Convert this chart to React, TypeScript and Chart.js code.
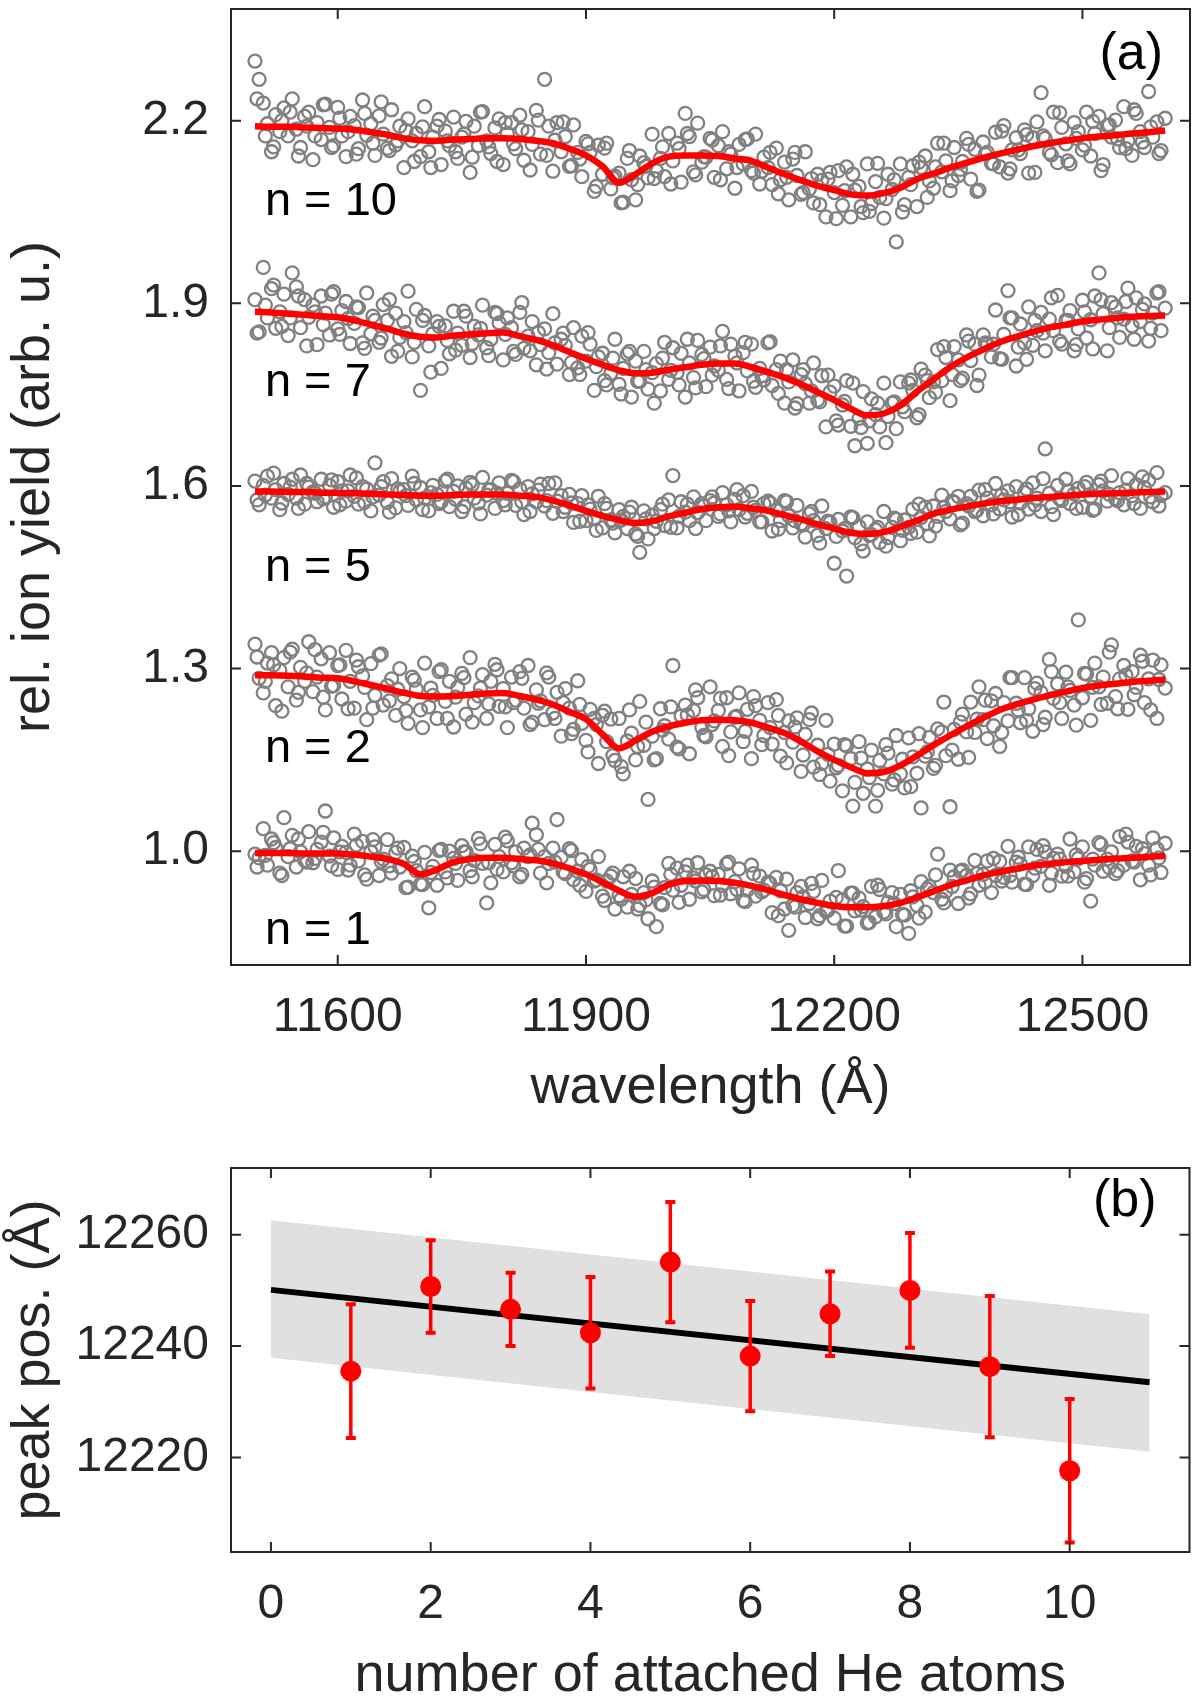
import { useEffect, useRef } from "react";
import { Chart, registerables } from "chart.js";

Chart.register(...registerables);

const FONT = "'Liberation Sans', Arial, Helvetica, sans-serif";
const INK = "#262626";
const RED = "#ff0000";
const TICK = 10;

// ---------- panel (a): ion yield vs wavelength ----------
// scan A (5 Å steps)
const wavelengths = [
  11500, 11505, 11510, 11515, 11520, 11525, 11530, 11535, 11540, 11545, 11550, 11555, 11560, 11565, 11570, 11575, 11580, 11585, 11590, 11595,
  11600, 11605, 11610, 11615, 11620, 11625, 11630, 11635, 11640, 11645, 11650, 11655, 11660, 11665, 11670, 11675, 11680, 11685, 11690, 11695,
  11700, 11705, 11710, 11715, 11720, 11725, 11730, 11735, 11740, 11745, 11750, 11755, 11760, 11765, 11770, 11775, 11780, 11785, 11790, 11795,
  11800, 11805, 11810, 11815, 11820, 11825, 11830, 11835, 11840, 11845, 11850, 11855, 11860, 11865, 11870, 11875, 11880, 11885, 11890, 11895,
  11900, 11905, 11910, 11915, 11920, 11925, 11930, 11935, 11940, 11945, 11950, 11955, 11960, 11965, 11970, 11975, 11980, 11985, 11990, 11995,
  12000, 12005, 12010, 12015, 12020, 12025, 12030, 12035, 12040, 12045, 12050, 12055, 12060, 12065, 12070, 12075, 12080, 12085, 12090, 12095,
  12100, 12105, 12110, 12115, 12120, 12125, 12130, 12135, 12140, 12145, 12150, 12155, 12160, 12165, 12170, 12175, 12180, 12185, 12190, 12195,
  12200, 12205, 12210, 12215, 12220, 12225, 12230, 12235, 12240, 12245, 12250, 12255, 12260, 12265, 12270, 12275, 12280, 12285, 12290, 12295,
  12300, 12305, 12310, 12315, 12320, 12325, 12330, 12335, 12340, 12345, 12350, 12355, 12360, 12365, 12370, 12375, 12380, 12385, 12390, 12395,
  12400, 12405, 12410, 12415, 12420, 12425, 12430, 12435, 12440, 12445, 12450, 12455, 12460, 12465, 12470, 12475, 12480, 12485, 12490, 12495,
  12500, 12505, 12510, 12515, 12520, 12525, 12530, 12535, 12540, 12545, 12550, 12555, 12560, 12565, 12570, 12575, 12580, 12585, 12590, 12595,
  12600,
];

const ionYieldN10 = [
  2.298, 2.268, 2.229, 2.195, 2.149, 2.210, 2.182, 2.221, 2.175, 2.236, 2.186, 2.156, 2.207, 2.214, 2.136, 2.197, 2.169, 2.227, 2.189, 2.159,
  2.222, 2.175, 2.141, 2.207, 2.192, 2.154, 2.234, 2.176, 2.195, 2.143, 2.208, 2.178, 2.155, 2.218, 2.160, 2.191, 2.123, 2.203, 2.167, 2.179,
  2.141, 2.223, 2.149, 2.173, 2.191, 2.128, 2.183, 2.159, 2.206, 2.138, 2.173, 2.199, 2.115, 2.191, 2.159, 2.215, 2.167, 2.146, 2.188, 2.203,
  2.128, 2.179, 2.197, 2.154, 2.209, 2.135, 2.182, 2.161, 2.217, 2.145, 2.268, 2.191, 2.117, 2.197, 2.149, 2.174, 2.125, 2.193, 2.148, 2.108,
  2.166, 2.148, 2.084, 2.160, 2.112, 2.163, 2.088, 2.109, 2.114, 2.066, 2.138, 2.103, 2.070, 2.142, 2.131, 2.106, 2.178, 2.118, 2.138, 2.108,
  2.179, 2.134, 2.163, 2.099, 2.212, 2.174, 2.116, 2.196, 2.132, 2.140, 2.171, 2.107, 2.159, 2.182, 2.121, 2.145, 2.089, 2.161, 2.129, 2.170,
  2.118, 2.178, 2.096, 2.140, 2.123, 2.095, 2.155, 2.103, 2.132, 2.070, 2.137, 2.110, 2.079, 2.149, 2.088, 2.065, 2.112, 2.102, 2.042, 2.115,
  2.082, 2.118, 2.061, 2.124, 2.042, 2.086, 2.092, 2.049, 2.129, 2.064, 2.100, 2.074, 2.040, 2.112, 2.087, 2.001, 2.129, 2.062, 2.107, 2.126,
  2.059, 2.123, 2.142, 2.101, 2.089, 2.163, 2.116, 2.134, 2.085, 2.156, 2.110, 2.133, 2.171, 2.104, 2.153, 2.086, 2.165, 2.148, 2.130, 2.181,
  2.124, 2.192, 2.114, 2.152, 2.172, 2.146, 2.185, 2.114, 2.172, 2.198, 2.246, 2.171, 2.148, 2.214, 2.131, 2.189, 2.162, 2.129, 2.197, 2.182,
  2.152, 2.214, 2.142, 2.179, 2.207, 2.128, 2.192, 2.173, 2.201, 2.156, 2.223, 2.167, 2.143, 2.212, 2.182, 2.156, 2.248, 2.173, 2.198, 2.151,
  2.204,
];

const ionYieldN7 = [
  1.906, 1.853, 1.959, 1.876, 1.924, 1.859, 1.886, 1.915, 1.847, 1.950, 1.927, 1.860, 1.906, 1.877, 1.897, 1.832, 1.912, 1.884, 1.848, 1.919,
  1.858, 1.888, 1.903, 1.834, 1.867, 1.893, 1.835, 1.917, 1.850, 1.872, 1.836, 1.898, 1.872, 1.813, 1.884, 1.844, 1.870, 1.920, 1.812, 1.890,
  1.757, 1.880, 1.830, 1.850, 1.870, 1.793, 1.863, 1.817, 1.887, 1.851, 1.831, 1.879, 1.811, 1.862, 1.848, 1.897, 1.827, 1.841, 1.885, 1.868,
  1.807, 1.876, 1.860, 1.816, 1.885, 1.826, 1.846, 1.870, 1.799, 1.832, 1.858, 1.819, 1.883, 1.800, 1.841, 1.831, 1.783, 1.860, 1.794, 1.846,
  1.805, 1.833, 1.757, 1.812, 1.818, 1.766, 1.785, 1.841, 1.767, 1.793, 1.817, 1.746, 1.805, 1.772, 1.821, 1.759, 1.786, 1.801, 1.756, 1.836,
  1.775, 1.827, 1.786, 1.818, 1.746, 1.802, 1.778, 1.839, 1.816, 1.763, 1.828, 1.797, 1.790, 1.854, 1.775, 1.833, 1.813, 1.756, 1.819, 1.789,
  1.833, 1.762, 1.793, 1.774, 1.835, 1.765, 1.791, 1.805, 1.736, 1.771, 1.807, 1.735, 1.783, 1.768, 1.736, 1.802, 1.741, 1.781, 1.697, 1.754,
  1.764, 1.700, 1.733, 1.773, 1.698, 1.666, 1.711, 1.755, 1.670, 1.743, 1.717, 1.697, 1.769, 1.714, 1.736, 1.694, 1.771, 1.722, 1.769, 1.757,
  1.712, 1.792, 1.782, 1.745, 1.771, 1.824, 1.773, 1.811, 1.740, 1.829, 1.807, 1.777, 1.848, 1.806, 1.833, 1.782, 1.848, 1.833, 1.812, 1.889,
  1.809, 1.849, 1.921, 1.876, 1.797, 1.866, 1.835, 1.894, 1.831, 1.855, 1.885, 1.822, 1.874, 1.855, 1.913, 1.833, 1.872, 1.888, 1.822, 1.858,
  1.905, 1.843, 1.873, 1.912, 1.950, 1.883, 1.822, 1.901, 1.894, 1.844, 1.874, 1.925, 1.863, 1.909, 1.870, 1.899, 1.838, 1.884, 1.917, 1.855,
  1.892,
];

const ionYieldN5 = [
  1.608, 1.569, 1.601, 1.616, 1.580, 1.594, 1.561, 1.604, 1.586, 1.611, 1.580, 1.618, 1.570, 1.598, 1.590, 1.574, 1.611, 1.582, 1.601, 1.565,
  1.607, 1.592, 1.575, 1.618, 1.583, 1.570, 1.599, 1.595, 1.559, 1.638, 1.585, 1.607, 1.573, 1.612, 1.564, 1.591, 1.594, 1.568, 1.616, 1.577,
  1.597, 1.580, 1.559, 1.601, 1.586, 1.574, 1.608, 1.566, 1.591, 1.600, 1.558, 1.596, 1.606, 1.580, 1.572, 1.614, 1.585, 1.594, 1.563, 1.605,
  1.576, 1.588, 1.609, 1.568, 1.595, 1.553, 1.599, 1.587, 1.574, 1.603, 1.567, 1.604, 1.555, 1.575, 1.584, 1.565, 1.586, 1.540, 1.571, 1.584,
  1.543, 1.562, 1.546, 1.583, 1.531, 1.563, 1.544, 1.523, 1.561, 1.550, 1.530, 1.565, 1.521, 1.491, 1.559, 1.513, 1.552, 1.542, 1.561, 1.535,
  1.577, 1.617, 1.531, 1.574, 1.557, 1.543, 1.582, 1.556, 1.571, 1.543, 1.576, 1.572, 1.550, 1.589, 1.569, 1.541, 1.578, 1.561, 1.584, 1.555,
  1.591, 1.560, 1.541, 1.571, 1.575, 1.526, 1.560, 1.543, 1.576, 1.551, 1.531, 1.568, 1.538, 1.516, 1.554, 1.543, 1.519, 1.567, 1.530, 1.540,
  1.473, 1.545, 1.526, 1.452, 1.549, 1.515, 1.533, 1.493, 1.541, 1.520, 1.528, 1.507, 1.558, 1.515, 1.532, 1.545, 1.510, 1.544, 1.532, 1.562,
  1.524, 1.548, 1.565, 1.518, 1.567, 1.550, 1.585, 1.558, 1.546, 1.573, 1.583, 1.539, 1.571, 1.583, 1.558, 1.593, 1.551, 1.580, 1.569, 1.604,
  1.562, 1.577, 1.592, 1.549, 1.599, 1.572, 1.589, 1.562, 1.605, 1.580, 1.558, 1.661, 1.588, 1.553, 1.601, 1.576, 1.611, 1.571, 1.587, 1.596,
  1.565, 1.606, 1.583, 1.562, 1.602, 1.592, 1.575, 1.617, 1.579, 1.589, 1.569, 1.612, 1.584, 1.602, 1.563, 1.597, 1.609, 1.574, 1.622, 1.584,
  1.589,
];

const ionYieldN2 = [
  1.340, 1.284, 1.260, 1.309, 1.326, 1.239, 1.297, 1.318, 1.270, 1.332, 1.248, 1.302, 1.279, 1.344, 1.262, 1.286, 1.316, 1.232, 1.326, 1.272,
  1.305, 1.250, 1.330, 1.279, 1.235, 1.303, 1.288, 1.216, 1.308, 1.256, 1.322, 1.240, 1.272, 1.283, 1.223, 1.300, 1.254, 1.210, 1.286, 1.266,
  1.232, 1.309, 1.237, 1.256, 1.218, 1.298, 1.246, 1.279, 1.204, 1.269, 1.292, 1.225, 1.318, 1.244, 1.255, 1.290, 1.218, 1.279, 1.307, 1.238,
  1.267, 1.203, 1.286, 1.248, 1.295, 1.235, 1.305, 1.212, 1.265, 1.247, 1.216, 1.286, 1.227, 1.261, 1.189, 1.267, 1.235, 1.200, 1.280, 1.210,
  1.182, 1.233, 1.218, 1.144, 1.223, 1.180, 1.217, 1.149, 1.218, 1.127, 1.181, 1.194, 1.150, 1.246, 1.174, 1.085, 1.189, 1.152, 1.234, 1.206,
  1.184, 1.305, 1.171, 1.222, 1.240, 1.160, 1.231, 1.252, 1.203, 1.188, 1.270, 1.214, 1.231, 1.172, 1.252, 1.196, 1.220, 1.260, 1.180, 1.233,
  1.152, 1.239, 1.215, 1.190, 1.244, 1.176, 1.249, 1.156, 1.195, 1.214, 1.179, 1.219, 1.131, 1.192, 1.216, 1.138, 1.174, 1.144, 1.215, 1.115,
  1.176, 1.141, 1.099, 1.173, 1.152, 1.113, 1.180, 1.095, 1.135, 1.166, 1.074, 1.149, 1.127, 1.161, 1.110, 1.190, 1.127, 1.104, 1.186, 1.155,
  1.128, 1.071, 1.156, 1.187, 1.136, 1.201, 1.196, 1.157, 1.073, 1.200, 1.151, 1.225, 1.196, 1.245, 1.195, 1.270, 1.216, 1.185, 1.247, 1.259,
  1.172, 1.244, 1.214, 1.285, 1.243, 1.211, 1.285, 1.234, 1.197, 1.276, 1.261, 1.220, 1.315, 1.251, 1.275, 1.218, 1.294, 1.264, 1.240, 1.380,
  1.252, 1.291, 1.215, 1.309, 1.270, 1.286, 1.243, 1.339, 1.254, 1.283, 1.305, 1.233, 1.295, 1.269, 1.322, 1.244, 1.283, 1.314, 1.218, 1.306,
  1.268,
];

const ionYieldN1 = [
  0.995, 0.989, 1.037, 0.977, 1.020, 1.006, 0.964, 1.055, 0.991, 1.026, 0.974, 0.999, 0.985, 1.032, 0.981, 1.003, 1.015, 1.066, 0.992, 1.022,
  0.970, 1.008, 0.998, 0.977, 1.028, 0.984, 1.016, 0.954, 0.999, 1.007, 0.960, 0.987, 1.019, 0.964, 0.998, 0.974, 1.006, 0.941, 0.992, 0.968,
  0.946, 0.998, 0.907, 0.975, 0.944, 1.003, 0.966, 1.000, 0.988, 0.952, 1.009, 0.999, 0.968, 0.985, 1.021, 0.980, 0.915, 0.948, 1.011, 0.991,
  0.966, 1.017, 0.981, 0.999, 0.958, 1.005, 0.991, 1.046, 1.027, 0.964, 0.991, 0.980, 1.005, 1.052, 0.990, 0.963, 1.004, 0.953, 0.967, 0.986,
  0.934, 0.970, 0.951, 0.991, 0.926, 0.951, 0.959, 0.905, 0.927, 0.958, 0.908, 0.929, 0.955, 0.911, 0.932, 0.889, 0.951, 0.876, 0.914, 0.940,
  0.980, 0.936, 0.972, 0.944, 0.966, 0.921, 0.956, 0.981, 0.933, 0.961, 0.967, 0.927, 0.962, 0.944, 0.979, 0.930, 0.950, 0.971, 0.919, 0.936,
  0.977, 0.926, 0.959, 0.936, 0.949, 0.899, 0.957, 0.935, 0.905, 0.870, 0.911, 0.932, 0.942, 0.891, 0.914, 0.934, 0.889, 0.952, 0.901, 0.918,
  0.890, 0.968, 0.920, 0.877, 0.931, 0.902, 0.923, 0.909, 0.882, 0.942, 0.892, 0.937, 0.900, 0.916, 0.932, 0.876, 0.929, 0.895, 0.865, 0.925,
  0.911, 0.950, 0.900, 0.942, 0.932, 0.995, 0.921, 0.934, 0.969, 0.958, 0.914, 0.969, 0.960, 0.930, 0.985, 0.944, 0.962, 0.984, 0.932, 0.960,
  0.983, 0.957, 1.008, 0.949, 0.982, 0.979, 0.946, 1.007, 0.960, 1.003, 0.975, 0.999, 0.944, 0.988, 0.995, 0.959, 0.975, 1.020, 0.966, 0.988,
  1.007, 0.955, 0.918, 0.977, 1.014, 0.967, 0.987, 0.999, 0.963, 1.024, 0.977, 1.015, 0.984, 1.008, 0.953, 0.996, 0.977, 1.022, 1.004, 0.965,
  1.013,
];

// scan B (10 Å steps, offset by 2.5 Å)
const wavelengthsB = [
  11502.5, 11512.5, 11522.5, 11532.5, 11542.5, 11552.5, 11562.5, 11572.5, 11582.5, 11592.5,
  11602.5, 11612.5, 11622.5, 11632.5, 11642.5, 11652.5, 11662.5, 11672.5, 11682.5, 11692.5,
  11702.5, 11712.5, 11722.5, 11732.5, 11742.5, 11752.5, 11762.5, 11772.5, 11782.5, 11792.5,
  11802.5, 11812.5, 11822.5, 11832.5, 11842.5, 11852.5, 11862.5, 11872.5, 11882.5, 11892.5,
  11902.5, 11912.5, 11922.5, 11932.5, 11942.5, 11952.5, 11962.5, 11972.5, 11982.5, 11992.5,
  12002.5, 12012.5, 12022.5, 12032.5, 12042.5, 12052.5, 12062.5, 12072.5, 12082.5, 12092.5,
  12102.5, 12112.5, 12122.5, 12132.5, 12142.5, 12152.5, 12162.5, 12172.5, 12182.5, 12192.5,
  12202.5, 12212.5, 12222.5, 12232.5, 12242.5, 12252.5, 12262.5, 12272.5, 12282.5, 12292.5,
  12302.5, 12312.5, 12322.5, 12332.5, 12342.5, 12352.5, 12362.5, 12372.5, 12382.5, 12392.5,
  12402.5, 12412.5, 12422.5, 12432.5, 12442.5, 12452.5, 12462.5, 12472.5, 12482.5, 12492.5,
  12502.5, 12512.5, 12522.5, 12532.5, 12542.5, 12552.5, 12562.5, 12572.5, 12582.5, 12592.5,
];

const ionYieldN10B = [
  2.236, 2.175, 2.157, 2.200, 2.214, 2.142, 2.191, 2.175, 2.226, 2.156,
  2.204, 2.182, 2.145, 2.212, 2.163, 2.231, 2.151, 2.167, 2.184, 2.133,
  2.190, 2.123, 2.202, 2.167, 2.149, 2.178, 2.140, 2.214, 2.157, 2.133,
  2.197, 2.162, 2.185, 2.119, 2.201, 2.143, 2.168, 2.198, 2.126, 2.137,
  2.162, 2.092, 2.155, 2.106, 2.065, 2.151, 2.095, 2.125, 2.105, 2.157,
  2.096, 2.154, 2.179, 2.111, 2.141, 2.168, 2.103, 2.149, 2.123, 2.169,
  2.114, 2.117, 2.148, 2.080, 2.107, 2.148, 2.082, 2.105, 2.062, 2.104,
  2.039, 2.085, 2.112, 2.059, 2.051, 2.130, 2.072, 2.103, 2.050, 2.095,
  2.132, 2.074, 2.124, 2.163, 2.101, 2.120, 2.161, 2.084, 2.145, 2.129,
  2.183, 2.121, 2.152, 2.177, 2.115, 2.175, 2.144, 2.213, 2.134, 2.171,
  2.160, 2.199, 2.118, 2.193, 2.170, 2.154, 2.218, 2.165, 2.190, 2.146,
];

const ionYieldN7B = [
  1.851, 1.897, 1.930, 1.862, 1.876, 1.912, 1.830, 1.886, 1.865, 1.915,
  1.849, 1.875, 1.894, 1.826, 1.879, 1.843, 1.906, 1.821, 1.852, 1.836,
  1.872, 1.787, 1.862, 1.839, 1.823, 1.887, 1.834, 1.859, 1.814, 1.883,
  1.849, 1.821, 1.901, 1.822, 1.852, 1.792, 1.835, 1.851, 1.803, 1.783,
  1.852, 1.796, 1.773, 1.810, 1.751, 1.821, 1.772, 1.791, 1.736, 1.810,
  1.790, 1.766, 1.841, 1.761, 1.809, 1.782, 1.830, 1.760, 1.802, 1.836,
  1.772, 1.781, 1.837, 1.752, 1.791, 1.728, 1.791, 1.756, 1.738, 1.782,
  1.707, 1.739, 1.769, 1.696, 1.707, 1.736, 1.671, 1.738, 1.730, 1.774,
  1.717, 1.773, 1.754, 1.829, 1.783, 1.773, 1.838, 1.765, 1.835, 1.833,
  1.808, 1.876, 1.828, 1.808, 1.872, 1.851, 1.909, 1.838, 1.872, 1.832,
  1.886, 1.825, 1.906, 1.860, 1.876, 1.903, 1.841, 1.890, 1.859, 1.919,
];

const ionYieldN5B = [
  1.577, 1.585, 1.621, 1.572, 1.598, 1.563, 1.604, 1.588, 1.579, 1.610,
  1.569, 1.592, 1.613, 1.573, 1.582, 1.599, 1.557, 1.595, 1.584, 1.604,
  1.561, 1.589, 1.571, 1.611, 1.578, 1.566, 1.602, 1.554, 1.593, 1.588,
  1.569, 1.607, 1.574, 1.558, 1.593, 1.576, 1.605, 1.558, 1.572, 1.542,
  1.569, 1.527, 1.571, 1.539, 1.544, 1.557, 1.517, 1.546, 1.530, 1.570,
  1.532, 1.550, 1.570, 1.530, 1.567, 1.582, 1.554, 1.559, 1.594, 1.549,
  1.565, 1.541, 1.572, 1.529, 1.574, 1.543, 1.536, 1.558, 1.506, 1.542,
  1.517, 1.530, 1.548, 1.505, 1.519, 1.532, 1.501, 1.547, 1.527, 1.522,
  1.570, 1.538, 1.534, 1.565, 1.575, 1.536, 1.567, 1.560, 1.594, 1.554,
  1.585, 1.574, 1.553, 1.595, 1.569, 1.612, 1.566, 1.579, 1.592, 1.563,
  1.599, 1.560, 1.608, 1.586, 1.576, 1.593, 1.571, 1.615, 1.582, 1.567,
];

const ionYieldN2B = [
  1.319, 1.279, 1.306, 1.230, 1.327, 1.261, 1.293, 1.331, 1.253, 1.271,
  1.306, 1.234, 1.314, 1.269, 1.235, 1.324, 1.247, 1.266, 1.231, 1.281,
  1.203, 1.268, 1.295, 1.218, 1.253, 1.285, 1.212, 1.268, 1.242, 1.298,
  1.237, 1.244, 1.284, 1.208, 1.243, 1.293, 1.218, 1.244, 1.193, 1.241,
  1.163, 1.208, 1.230, 1.157, 1.139, 1.232, 1.172, 1.212, 1.150, 1.199,
  1.237, 1.168, 1.224, 1.265, 1.190, 1.208, 1.251, 1.157, 1.222, 1.197,
  1.254, 1.175, 1.203, 1.223, 1.145, 1.204, 1.158, 1.227, 1.126, 1.159,
  1.137, 1.175, 1.074, 1.153, 1.121, 1.100, 1.175, 1.117, 1.151, 1.106,
  1.193, 1.163, 1.141, 1.245, 1.166, 1.212, 1.154, 1.217, 1.248, 1.206,
  1.195, 1.285, 1.232, 1.215, 1.267, 1.208, 1.295, 1.244, 1.270, 1.207,
  1.292, 1.269, 1.241, 1.327, 1.234, 1.289, 1.257, 1.312, 1.232, 1.282,
];

const ionYieldN1B = [
  0.974, 0.993, 1.014, 0.960, 1.004, 1.020, 0.982, 0.988, 1.031, 0.976,
  0.999, 0.969, 1.010, 0.961, 1.019, 0.983, 0.976, 1.005, 0.940, 0.983,
  0.945, 0.965, 1.001, 0.956, 0.980, 0.999, 0.958, 1.012, 0.981, 0.970,
  1.023, 0.976, 0.962, 0.994, 1.003, 0.948, 0.982, 0.966, 1.001, 0.944,
  0.975, 0.953, 0.919, 0.964, 0.921, 0.967, 0.905, 0.920, 0.941, 0.912,
  0.962, 0.916, 0.977, 0.951, 0.937, 0.958, 0.928, 0.982, 0.937, 0.917,
  0.963, 0.933, 0.947, 0.894, 0.954, 0.908, 0.925, 0.947, 0.894, 0.903,
  0.924, 0.877, 0.931, 0.903, 0.883, 0.944, 0.897, 0.914, 0.896, 0.935,
  0.890, 0.938, 0.961, 0.915, 0.942, 0.967, 0.923, 0.963, 0.949, 0.988,
  0.951, 0.960, 0.990, 0.945, 0.972, 1.009, 0.964, 0.987, 0.959, 0.994,
  0.949, 0.987, 1.011, 0.973, 0.968, 1.028, 0.982, 1.004, 0.961, 0.989,
];

// smooth fits (red curves)
const fitWavelengths = [
  11500, 11520, 11540, 11560, 11580, 11600, 11620, 11640, 11660, 11680, 11700, 11720, 11740, 11760, 11780, 11800, 11820, 11840, 11860, 11880,
  11900, 11920, 11940, 11960, 11980, 12000, 12020, 12040, 12060, 12080, 12100, 12120, 12140, 12160, 12180, 12200, 12220, 12240, 12260, 12280,
  12300, 12320, 12340, 12360, 12380, 12400, 12420, 12440, 12460, 12480, 12500, 12520, 12540, 12560, 12580, 12600,
];
const fitN10 = [
  2.191, 2.190, 2.190, 2.189, 2.188, 2.187, 2.185, 2.181, 2.177, 2.171, 2.168, 2.167, 2.169, 2.170, 2.171, 2.171, 2.170, 2.167, 2.163, 2.154,
  2.143, 2.125, 2.098, 2.112, 2.130, 2.141, 2.143, 2.143, 2.142, 2.138, 2.134, 2.123, 2.112, 2.102, 2.093, 2.086, 2.079, 2.077, 2.081, 2.090,
  2.104, 2.113, 2.123, 2.131, 2.139, 2.146, 2.152, 2.158, 2.163, 2.167, 2.171, 2.174, 2.176, 2.179, 2.181, 2.184,
];
const fitN7 = [
  1.886, 1.885, 1.883, 1.881, 1.879, 1.877, 1.872, 1.865, 1.858, 1.850, 1.845, 1.844, 1.847, 1.849, 1.851, 1.852, 1.846, 1.840, 1.831, 1.820,
  1.809, 1.799, 1.790, 1.785, 1.786, 1.791, 1.795, 1.799, 1.801, 1.801, 1.795, 1.787, 1.778, 1.767, 1.754, 1.741, 1.727, 1.716, 1.719, 1.732,
  1.755, 1.775, 1.795, 1.811, 1.824, 1.836, 1.845, 1.853, 1.860, 1.865, 1.870, 1.873, 1.876, 1.878, 1.879, 1.880,
];
const fitN5 = [
  1.591, 1.591, 1.590, 1.590, 1.589, 1.589, 1.588, 1.587, 1.586, 1.585, 1.584, 1.584, 1.585, 1.586, 1.586, 1.586, 1.584, 1.582, 1.576, 1.568,
  1.559, 1.551, 1.544, 1.539, 1.542, 1.550, 1.556, 1.562, 1.565, 1.566, 1.563, 1.559, 1.552, 1.545, 1.537, 1.530, 1.523, 1.521, 1.524, 1.533,
  1.543, 1.554, 1.561, 1.566, 1.571, 1.575, 1.577, 1.580, 1.582, 1.584, 1.586, 1.587, 1.588, 1.589, 1.590, 1.591,
];
const fitN2 = [
  1.289, 1.289, 1.288, 1.287, 1.285, 1.284, 1.279, 1.273, 1.267, 1.260, 1.255, 1.254, 1.255, 1.257, 1.259, 1.260, 1.255, 1.249, 1.241, 1.229,
  1.217, 1.192, 1.169, 1.182, 1.196, 1.205, 1.211, 1.215, 1.216, 1.215, 1.211, 1.203, 1.194, 1.180, 1.164, 1.150, 1.138, 1.128, 1.130, 1.141,
  1.157, 1.174, 1.190, 1.205, 1.219, 1.232, 1.241, 1.249, 1.256, 1.262, 1.268, 1.272, 1.275, 1.278, 1.280, 1.282,
];
const fitN1 = [
  0.997, 0.997, 0.997, 0.996, 0.996, 0.996, 0.994, 0.991, 0.987, 0.979, 0.962, 0.970, 0.982, 0.987, 0.989, 0.989, 0.987, 0.985, 0.980, 0.972,
  0.962, 0.949, 0.935, 0.925, 0.931, 0.945, 0.951, 0.952, 0.951, 0.948, 0.943, 0.936, 0.928, 0.921, 0.915, 0.910, 0.908, 0.908, 0.910, 0.915,
  0.924, 0.934, 0.944, 0.952, 0.960, 0.966, 0.971, 0.976, 0.979, 0.982, 0.984, 0.986, 0.988, 0.989, 0.991, 0.992,
];

const seriesLabels = ["n = 10", "n = 7", "n = 5", "n = 2", "n = 1"];
const seriesLabelLevels = [2.066, 1.769, 1.465, 1.168, 0.869];
const seriesLabelWavelength = 11512;
const wavelengthTicks = [11600, 11900, 12200, 12500];
const yieldTicks = [1.0, 1.3, 1.6, 1.9, 2.2];

// ---------- panel (b): peak position vs number of He atoms ----------
const heAtoms = [1, 2, 3, 4, 5, 6, 7, 8, 9, 10];
const peakPos = [12235.5, 12250.7, 12246.6, 12242.4, 12255.1, 12238.2, 12245.8, 12250.0, 12236.3, 12217.6];
const peakErr = [12.0, 8.3, 6.6, 10.0, 10.8, 9.9, 7.6, 10.3, 12.7, 12.9];
const fitAtoms = [0, 11];
const fitPeak = [12250.1, 12233.5];
const bandUpper = [12262.6, 12245.7];
const bandLower = [12237.9, 12221.0];
const atomTicks = [0, 2, 4, 6, 8, 10];
const peakTicks = [12220, 12240, 12260];

const pts = (xs: number[], ys: number[]) => xs.map((x, i) => ({ x, y: ys[i] }));

function drawFrame(chart: any) {
  const { ctx, chartArea, scales } = chart;
  const { left, right, top, bottom } = chartArea;
  ctx.save();
  ctx.strokeStyle = INK;
  ctx.lineWidth = 2;
  ctx.beginPath();
  scales.x.ticks.forEach((t: any) => {
    const p = scales.x.getPixelForValue(t.value);
    ctx.moveTo(p, bottom);
    ctx.lineTo(p, bottom - TICK);
    ctx.moveTo(p, top);
    ctx.lineTo(p, top + TICK);
  });
  scales.y.ticks.forEach((t: any) => {
    const p = scales.y.getPixelForValue(t.value);
    ctx.moveTo(left, p);
    ctx.lineTo(left + TICK, p);
    ctx.moveTo(right, p);
    ctx.lineTo(right - TICK, p);
  });
  ctx.stroke();
  ctx.strokeRect(left, top, right - left, bottom - top);
  ctx.restore();
}

function drawTag(chart: any, text: string, dx: number, dy: number) {
  const { ctx, chartArea } = chart;
  ctx.save();
  ctx.fillStyle = "#000";
  ctx.font = `52px ${FONT}`;
  ctx.textAlign = "right";
  ctx.textBaseline = "alphabetic";
  ctx.fillText(text, chartArea.right - dx, chartArea.top + dy);
  ctx.restore();
}

function axisOptions(opts: {
  min: number;
  max: number;
  ticks: number[];
  title: string;
  fmt: (v: number) => string;
  size: number;
  horizontal: boolean;
  titlePad: any;
}) {
  return {
    type: "linear" as const,
    min: opts.min,
    max: opts.max,
    afterBuildTicks: (s: any) => {
      s.ticks = opts.ticks.map((value) => ({ value }));
    },
    afterFit: (s: any) => {
      if (opts.horizontal) s.height = opts.size;
      else s.width = opts.size;
      s.paddingTop = 0;
      s.paddingBottom = 0;
      s.paddingLeft = 0;
      s.paddingRight = 0;
    },
    grid: { display: false, drawTicks: false },
    border: { display: false },
    ticks: {
      autoSkip: false,
      maxRotation: 0,
      minRotation: 0,
      padding: opts.horizontal ? 29 : 22,
      color: INK,
      font: { family: FONT, size: 48, lineHeight: 1 },
      callback: (v: any) => opts.fmt(Number(v)),
    },
    title: {
      display: true,
      text: opts.title,
      color: INK,
      font: { family: FONT, size: 54, lineHeight: 1 },
      padding: opts.titlePad,
    },
  };
}

function YieldPanel() {
  const ref = useRef<HTMLCanvasElement>(null);

  useEffect(() => {
    if (!ref.current) return;
    const scatterStyle = {
      type: "scatter" as const,
      showLine: false,
      pointRadius: 6.5,
      pointBorderWidth: 2.3,
      pointBorderColor: "#808080",
      pointBackgroundColor: "rgba(0,0,0,0)",
      order: 2,
    };
    const fitStyle = {
      type: "line" as const,
      borderColor: RED,
      borderWidth: 6.5,
      pointRadius: 0,
      fill: false,
      cubicInterpolationMode: "monotone" as const,
      order: 1,
    };
    const labelPlugin = {
      id: "yieldLabels",
      afterDraw(chart: any) {
        const { ctx, scales } = chart;
        ctx.save();
        ctx.fillStyle = "#000";
        ctx.font = `47px ${FONT}`;
        ctx.textAlign = "left";
        ctx.textBaseline = "middle";
        seriesLabels.forEach((label, i) => {
          ctx.fillText(
            label,
            scales.x.getPixelForValue(seriesLabelWavelength),
            scales.y.getPixelForValue(seriesLabelLevels[i]),
          );
        });
        ctx.restore();
        drawFrame(chart);
        drawTag(chart, "(a)", 27, 60);
      },
    };

    const chart = new Chart(ref.current, {
      type: "scatter",
      data: {
        datasets: [
          { ...scatterStyle, label: "n = 10", data: pts(wavelengths, ionYieldN10) },
          { ...scatterStyle, label: "n = 10 B", data: pts(wavelengthsB, ionYieldN10B) },
          { ...scatterStyle, label: "n = 7", data: pts(wavelengths, ionYieldN7) },
          { ...scatterStyle, label: "n = 7 B", data: pts(wavelengthsB, ionYieldN7B) },
          { ...scatterStyle, label: "n = 5", data: pts(wavelengths, ionYieldN5) },
          { ...scatterStyle, label: "n = 5 B", data: pts(wavelengthsB, ionYieldN5B) },
          { ...scatterStyle, label: "n = 2", data: pts(wavelengths, ionYieldN2) },
          { ...scatterStyle, label: "n = 2 B", data: pts(wavelengthsB, ionYieldN2B) },
          { ...scatterStyle, label: "n = 1", data: pts(wavelengths, ionYieldN1) },
          { ...scatterStyle, label: "n = 1 B", data: pts(wavelengthsB, ionYieldN1B) },
          { ...fitStyle, label: "fit 10", data: pts(fitWavelengths, fitN10) },
          { ...fitStyle, label: "fit 7", data: pts(fitWavelengths, fitN7) },
          { ...fitStyle, label: "fit 5", data: pts(fitWavelengths, fitN5) },
          { ...fitStyle, label: "fit 2", data: pts(fitWavelengths, fitN2) },
          { ...fitStyle, label: "fit 1", data: pts(fitWavelengths, fitN1) },
        ] as any,
      },
      options: {
        responsive: false,
        animation: false,
        events: [],
        layout: { padding: { left: 0, top: 9, right: 10, bottom: 0 } },
        plugins: { legend: { display: false }, tooltip: { enabled: false } },
        scales: {
          x: axisOptions({
            min: 11471,
            max: 12630,
            ticks: wavelengthTicks,
            title: "wavelength (Å)",
            fmt: (v) => String(v),
            size: 175,
            horizontal: true,
            titlePad: { top: 0, bottom: 25 },
          }),
          y: axisOptions({
            min: 0.813,
            max: 2.3835,
            ticks: yieldTicks,
            title: "rel. ion yield (arb. u.)",
            fmt: (v) => v.toFixed(1),
            size: 231,
            horizontal: false,
            titlePad: { top: 7, bottom: 0 },
          }),
        },
      } as any,
      plugins: [labelPlugin],
    });
    return () => {
      chart.destroy();
    };
  }, []);

  return (
    <canvas
      ref={ref}
      width={1200}
      height={1140}
      style={{ position: "absolute", left: 0, top: 0, width: 1200, height: 1140 }}
    />
  );
}

function PeakPanel() {
  const ref = useRef<HTMLCanvasElement>(null);

  useEffect(() => {
    if (!ref.current) return;
    const errorBars = {
      id: "errorBars",
      afterDatasetsDraw(chart: any) {
        const { ctx, scales } = chart;
        ctx.save();
        ctx.strokeStyle = RED;
        heAtoms.forEach((n, i) => {
          const px = scales.x.getPixelForValue(n);
          const hi = scales.y.getPixelForValue(peakPos[i] + peakErr[i]);
          const lo = scales.y.getPixelForValue(peakPos[i] - peakErr[i]);
          ctx.lineWidth = 3.5;
          ctx.beginPath();
          ctx.moveTo(px, hi);
          ctx.lineTo(px, lo);
          ctx.stroke();
          ctx.lineWidth = 4;
          ctx.beginPath();
          ctx.moveTo(px - 5, hi);
          ctx.lineTo(px + 5, hi);
          ctx.moveTo(px - 5, lo);
          ctx.lineTo(px + 5, lo);
          ctx.stroke();
        });
        ctx.restore();
      },
      afterDraw(chart: any) {
        drawFrame(chart);
        drawTag(chart, "(b)", 33, 48);
      },
    };

    const chart = new Chart(ref.current, {
      type: "scatter",
      data: {
        datasets: [
          {
            type: "line",
            label: "band lower",
            data: pts(fitAtoms, bandLower),
            borderWidth: 0,
            pointRadius: 0,
            fill: false,
            order: 4,
          },
          {
            type: "line",
            label: "band upper",
            data: pts(fitAtoms, bandUpper),
            borderWidth: 0,
            pointRadius: 0,
            fill: "-1",
            backgroundColor: "#e0e0e0",
            order: 4,
          },
          {
            type: "line",
            label: "linear fit",
            data: pts(fitAtoms, fitPeak),
            borderColor: "#000",
            borderWidth: 6,
            pointRadius: 0,
            fill: false,
            order: 2,
          },
          {
            type: "scatter",
            label: "peak position",
            data: pts(heAtoms, peakPos),
            pointRadius: 10.5,
            pointBorderWidth: 0,
            pointBackgroundColor: RED,
            pointBorderColor: RED,
            order: 1,
          },
        ] as any,
      },
      options: {
        responsive: false,
        animation: false,
        events: [],
        layout: { padding: { left: 0, top: 28, right: 10, bottom: 0 } },
        plugins: { legend: { display: false }, tooltip: { enabled: false } },
        scales: {
          x: axisOptions({
            min: -0.5,
            max: 11.5,
            ticks: atomTicks,
            title: "number of attached He atoms",
            fmt: (v) => String(v),
            size: 152,
            horizontal: true,
            titlePad: { top: 0, bottom: 1 },
          }),
          y: axisOptions({
            min: 12203,
            max: 12272,
            ticks: peakTicks,
            title: "peak pos. (Å)",
            fmt: (v) => String(v),
            size: 231,
            horizontal: false,
            titlePad: { top: 7, bottom: 0 },
          }),
        },
      } as any,
      plugins: [errorBars],
    });
    return () => {
      chart.destroy();
    };
  }, []);

  return (
    <canvas
      ref={ref}
      width={1200}
      height={564}
      style={{ position: "absolute", left: 0, top: 1140, width: 1200, height: 564 }}
    />
  );
}

export default function App() {
  return (
    <div style={{ position: "absolute", left: 0, top: 0, width: 1200, height: 1704, background: "#fff" }}>
      <YieldPanel />
      <PeakPanel />
    </div>
  );
}
